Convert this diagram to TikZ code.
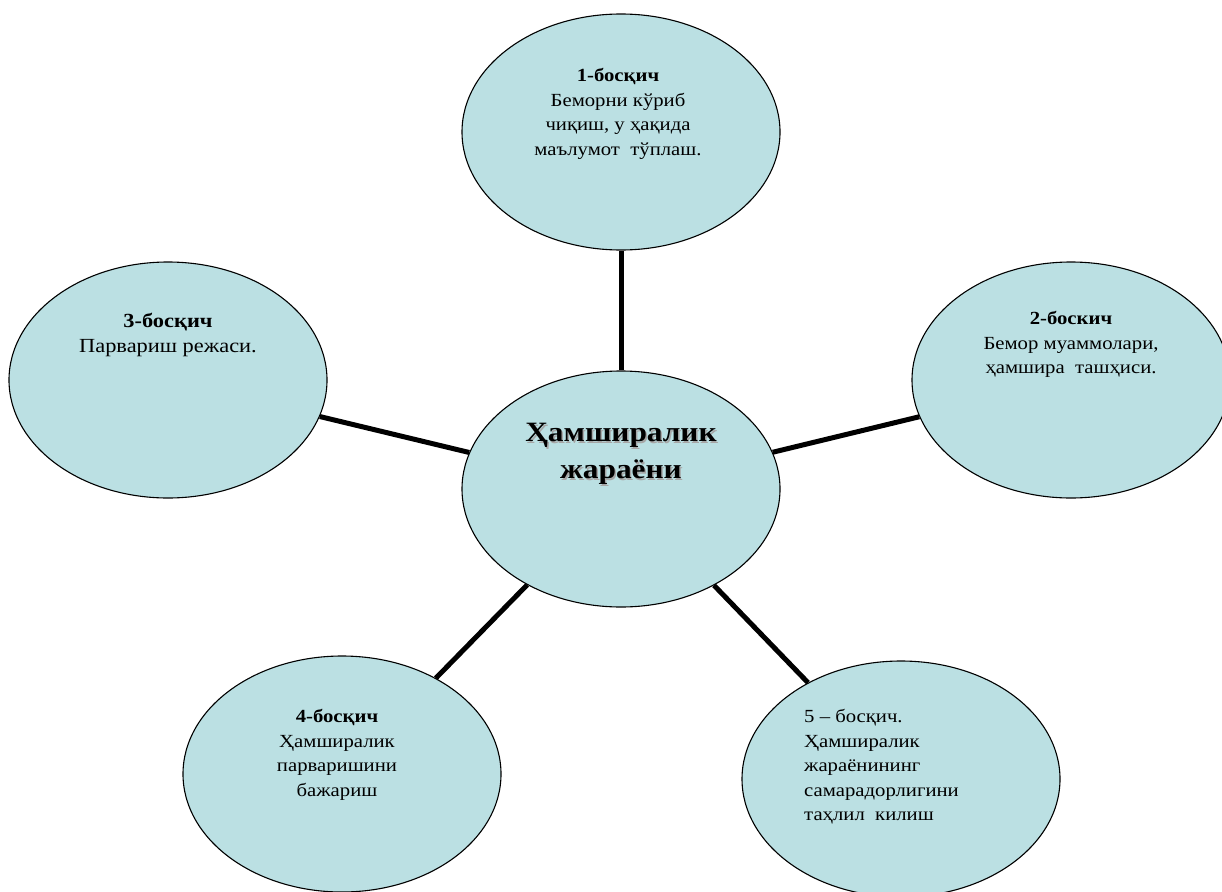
\documentclass[tikz,border=0pt]{standalone}
\usepackage{fontspec}
\IfFontExistsTF{LiberationSerif-Regular.ttf}
  {\setmainfont{LiberationSerif}[Extension=.ttf, UprightFont=*-Regular,
     BoldFont=*-Bold, ItalicFont=*-Italic, BoldItalicFont=*-BoldItalic, FakeStretch=1.12]}
  {\setmainfont{Liberation Serif}[FakeStretch=1.12]}
\usepackage{tikz}
\usetikzlibrary{shapes.geometric, positioning, backgrounds}
\definecolor{hsFill}{HTML}{BBE0E3}
\newcommand{\hsshadow}[1]{\leavevmode\rlap{\kern1.5pt\raisebox{-1.5pt}{\textcolor{black!35}{#1}}}#1}
\tikzset{
  hsstage/.style={ellipse, draw=black, line width=1.1pt, fill=hsFill,
                  minimum width=318pt, minimum height=236pt, inner sep=0pt},
  hstext/.style={align=center, inner sep=0pt, anchor=north,
                 font=\fontsize{18.5}{24.5}\selectfont},
  hstitle/.style={align=center, inner sep=0pt, anchor=north,
                  font=\fontsize{28}{37}\selectfont\bfseries},
  hslink/.style={draw=black, line width=5pt},
}

\begin{document}
\begin{tikzpicture}[x=1pt, y=-1pt]
\useasboundingbox (0,0) rectangle (1222,891);
\clip (0,0) rectangle (1222,891);
\node[hsstage] (core) at (621,489) {};
\node[hsstage] (s1) at (621,132) {};
\node[hsstage] (s2) at (1071,380) {};
\node[hsstage] (s3) at (168,380) {};
\node[hsstage] (s4) at (342,774) {};
\node[hsstage] (s5) at (901,779) {};

\node[hstitle, below=53pt of core.north] (tc) {\hsshadow{Ҳамширалик}\\\hsshadow{жараёни}};
\node[hstext, below=55pt of s1.north, xshift=-3pt] (t1) {\textbf{1-босқич}\\Беморни кўриб\\чиқиш, у ҳақида\\маълумот~ тўплаш.};
\node[hstext, below=50pt of s2.north] (t2) {\textbf{2-боскич}\\Бемор муаммолари,\\ҳамшира~ ташҳиси.};
\node[hstext, font=\fontsize{20}{25}\selectfont, below=52pt of s3.north] (t3) {\textbf{3-босқич}\\Парвариш режаси.};
\node[hstext, below=54pt of s4.north, xshift=-5pt] (t4) {\textbf{4-босқич}\\Ҳамширалик\\парваришини\\бажариш};
\node[hstext, align=left, anchor=north west] (t5) at ([xshift=-97pt, yshift=-49pt]s5.north) {5 – босқич.\\Ҳамширалик\\жараёнининг\\самарадорлигини\\таҳлил~ килиш};

\begin{scope}[on background layer]
\draw[hslink] (core) -- (s1);
\draw[hslink] (core) -- (s2);
\draw[hslink] (core) -- (s3);
\draw[hslink] (core) -- (s4);
\draw[hslink] (core) -- (s5);
\end{scope}
\end{tikzpicture}
\end{document}
